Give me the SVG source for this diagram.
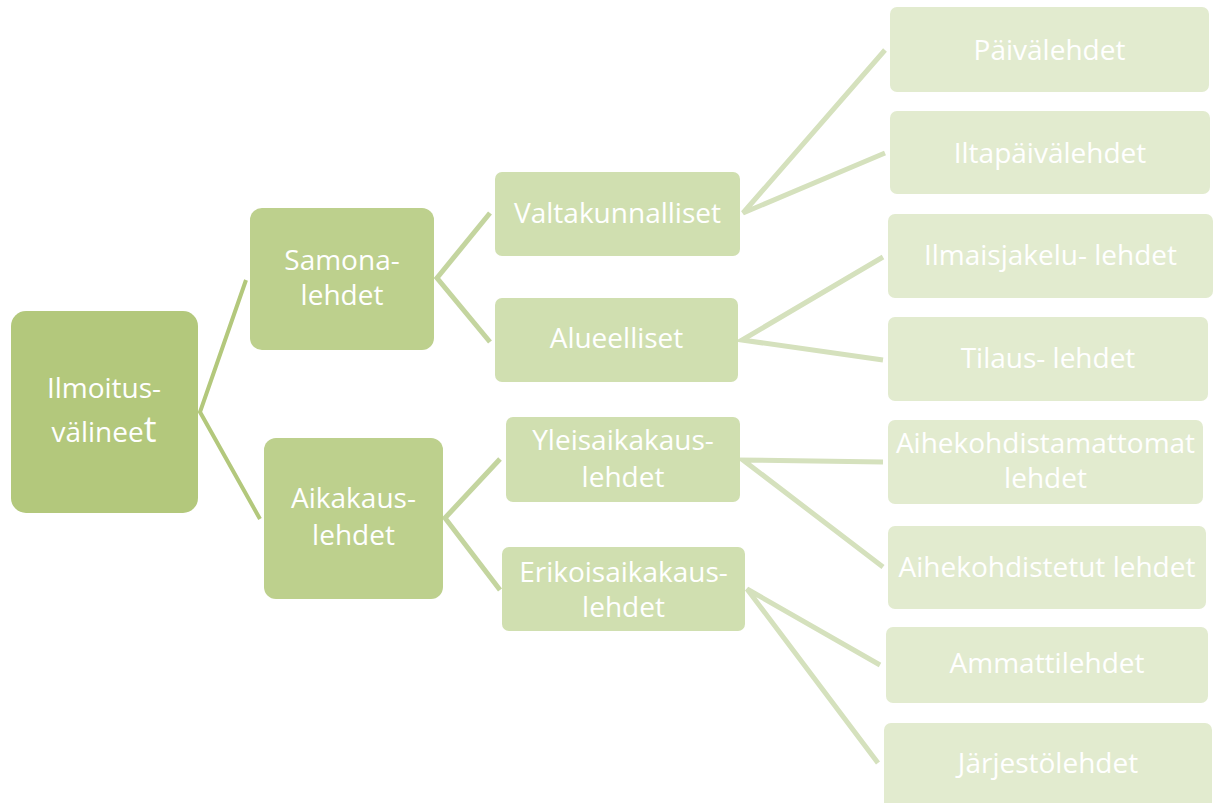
<svg xmlns="http://www.w3.org/2000/svg" width="1218" height="803" viewBox="0 0 1218 803">
<style>
text{font-family:"Open Sans","Noto Sans",sans-serif;font-size:28px;fill:#ffffff;text-anchor:middle}
.n0{fill:#b3c87c}
.n1{fill:#bdd08d}
.n2{fill:#d0dfb0}
.n3{fill:#e2ebcf}
.c0{stroke:#b3c87c;stroke-width:4;fill:none}
.c1{stroke:#c4d59f;stroke-width:5;fill:none}
.c2{stroke:#d5e1bd;stroke-width:5;fill:none}
</style>
<rect width="1218" height="803" fill="#ffffff"/>
<g id="connectors">
<polyline class="c0" points="246,280 200,412 260,519"/>
<polyline class="c1" points="490,213 437,278 490,342"/>
<polyline class="c1" points="500,459 445,518 500,590"/>
<polyline class="c2" points="885,50 743,213 885,153"/>
<polyline class="c2" points="883,257 742,340 883,360"/>
<polyline class="c2" points="883,462 743,460 883,567"/>
<polyline class="c2" points="880,665 747,589 878,763"/>
</g>
<g id="n-root"><rect class="n0" x="11" y="311" width="187" height="202" rx="15"/><text x="104" y="398">Ilmoitus-</text><text x="104" y="442">välinee<tspan style="font-size:36px">t</tspan></text></g>
<g id="n-samona"><rect class="n1" x="250" y="208" width="184" height="142" rx="12"/><text x="342" y="270">Samona-</text><text x="342" y="305">lehdet</text></g>
<g id="n-aikakaus"><rect class="n1" x="264" y="438" width="179" height="161" rx="12"/><text x="353.5" y="508">Aikakaus-</text><text x="353.5" y="545">lehdet</text></g>
<g id="n-valtakunnalliset"><rect class="n2" x="495" y="172" width="245" height="84" rx="7"/><text x="617.5" y="223">Valtakunnalliset</text></g>
<g id="n-alueelliset"><rect class="n2" x="495" y="298" width="243" height="84" rx="7"/><text x="616.5" y="348">Alueelliset</text></g>
<g id="n-yleisaikakaus"><rect class="n2" x="506" y="417" width="234" height="85" rx="7"/><text x="623" y="450">Yleisaikakaus-</text><text x="623" y="487">lehdet</text></g>
<g id="n-erikoisaikakaus"><rect class="n2" x="502" y="547" width="243" height="84" rx="7"/><text x="623.5" y="582">Erikoisaikakaus-</text><text x="623.5" y="617">lehdet</text></g>
<g id="n-paivalehdet"><rect class="n3" x="890" y="7" width="319" height="85" rx="7"/><text x="1049.5" y="60">Päivälehdet</text></g>
<g id="n-iltapaivalehdet"><rect class="n3" x="890" y="111" width="320" height="83" rx="7"/><text x="1050" y="163">Iltapäivälehdet</text></g>
<g id="n-ilmaisjakelu"><rect class="n3" x="888" y="214" width="325" height="84" rx="7"/><text x="1050.5" y="265">Ilmaisjakelu- lehdet</text></g>
<g id="n-tilaus"><rect class="n3" x="888" y="317" width="320" height="84" rx="7"/><text x="1048" y="368">Tilaus- lehdet</text></g>
<g id="n-aihekohdistamattomat"><rect class="n3" x="888" y="420" width="315" height="84" rx="7"/><text x="1045.5" y="453">Aihekohdistamattomat</text><text x="1045.5" y="488">lehdet</text></g>
<g id="n-aihekohdistetut"><rect class="n3" x="888" y="526" width="318" height="83" rx="7"/><text x="1047" y="577">Aihekohdistetut lehdet</text></g>
<g id="n-ammattilehdet"><rect class="n3" x="886" y="627" width="322" height="76" rx="7"/><text x="1047" y="673">Ammattilehdet</text></g>
<g id="n-jarjestolehdet"><rect class="n3" x="884" y="723" width="328" height="86" rx="7"/><text x="1048" y="773">Järjestölehdet</text></g>
</svg>
